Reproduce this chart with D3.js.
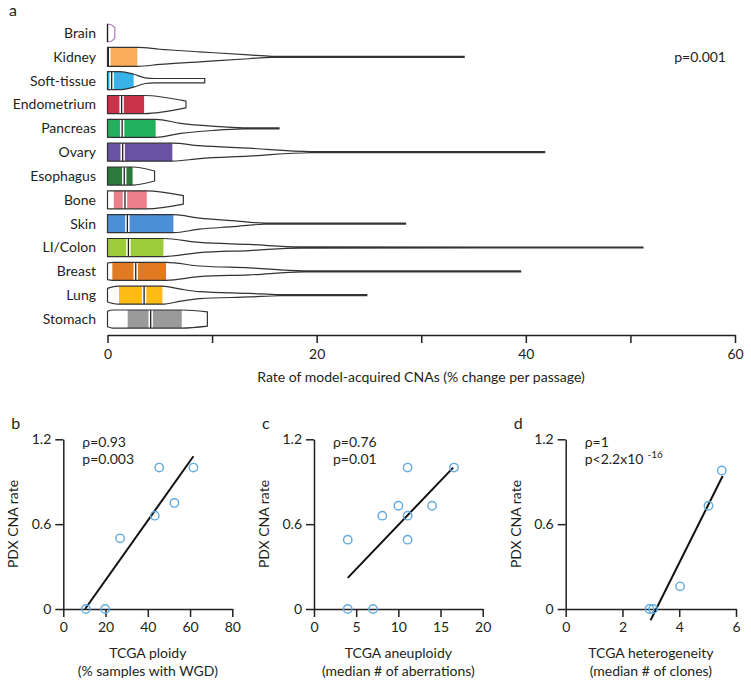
<!DOCTYPE html>
<html><head><meta charset="utf-8">
<script src="https://cdn.jsdelivr.net/npm/d3@7"></script>
<style>
body{margin:0;background:#fff}
svg text{font-family:Lato,"Open Sans",sans-serif;fill:#231f20}
</style>
</head><body><svg id="chart" width="751" height="690"></svg>
<script>
// ---------- Panel a data ----------
const categories = ["Brain","Kidney","Soft-tissue","Endometrium","Pancreas","Ovary","Esophagus","Bone","Skin","LI/Colon","Breast","Lung","Stomach"];
const colors = ["#b07cc6","#f9ad5a","#36b3e8","#c8334a","#22b05c","#6a52a3","#2c7a3c","#ec7d8a","#4a8fd8","#9ccc3a","#e27a22","#fdbb13","#9a9a9a"];
const q1 = [0, 0, 0, 0, 0, 0, 0, 0.6, 0, 0, 0.46, 1.1, 1.93];
const medians = [0.05, 0.08, 0.4, 1.35, 1.4, 1.45, 1.6, 1.67, 1.9, 2.0, 2.7, 3.5, 4.13];
const q3 = [0, 2.85, 2.5, 3.5, 4.6, 6.2, 2.4, 3.75, 6.3, 5.35, 5.6, 5.25, 7.1];
// violin outlines: [rate, relative density]
const profiles = [
  [[0,0.95],[0.4,0.85],[0.7,0.55]],
  [[0,1],[2.9,1],[5,0.8],[8.8,0.53],[13.5,0.2],[15.7,0.06],[34.1,0.05]],
  [[0,0.95],[1.2,0.95],[2.5,0.68],[3.6,0.3],[4.5,0.23],[9.3,0.23]],
  [[0,0.95],[3.5,0.95],[7.5,0.35]],
  [[0,0.95],[4.6,0.95],[7,0.53],[10,0.23],[13,0.06],[16.4,0.05]],
  [[0,0.95],[6.2,0.95],[8.8,0.68],[13.5,0.42],[19.4,0.06],[41.8,0.05]],
  [[0,0.95],[2.4,0.95],[4.5,0.53]],
  [[0,0.95],[3.75,0.95],[7.25,0.45]],
  [[0,0.95],[6.3,0.95],[8.8,0.58],[12,0.32],[15,0.06],[28.5,0.05]],
  [[0,0.95],[5.35,0.95],[8.8,0.53],[13.6,0.32],[18.4,0.06],[51.2,0.05]],
  [[0,0.88],[0.5,0.95],[5.6,0.95],[8.8,0.56],[13.6,0.37],[18.7,0.06],[39.5,0.05]],
  [[0,0.72],[1,0.95],[5.25,0.95],[7,0.63],[8.8,0.37],[13.6,0.19],[16.5,0.06],[24.8,0.05]],
  [[0,0.82],[0.5,0.95],[7.1,0.95],[9.55,0.74]]
];
const rateTicks = [0,10,20,30,40,50,60];
const rateTickLabels = ["0","","20","","40","","60"];
const pValueA = "p=0.001";

// ---------- Panels b-d data ----------
const ploidyX = [10.7, 19.8, 26.9, 43.3, 45.4, 52.6, 61.6];
const ploidyY = [0, 0, 0.5, 0.66, 1.0, 0.75, 1.0];
const ploidyFitX = [10.3, 61.6];
const ploidyFitY = [0, 1.08];
const aneuX = [4, 7, 4, 8.1, 10, 11.1, 11.1, 11.1, 14, 16.6];
const aneuY = [0, 0, 0.49, 0.66, 0.73, 0.66, 0.49, 1.0, 0.73, 1.0];
const aneuFitX = [4, 16.5];
const aneuFitY = [0.22, 1.0];
const hetX = [2.95, 3.08, 4.03, 5.03, 5.5];
const hetY = [0, 0, 0.16, 0.73, 0.98];
const hetFitX = [2.99, 5.53];
const hetFitY = [-0.08, 0.94];
const rateTicksY = [0, 0.6, 1.2];

const svg = d3.select("#chart");

// ---------- Panel a ----------
const x = d3.scaleLinear().domain([0,60]).range([107.5,735]);
const y = d3.scalePoint().domain(categories).range([33,319]);
const w = d3.scaleLinear().domain([0,1]).range([0,9.5]);

svg.append("text").attr("x",9).attr("y",16).style("font-size","16px").text("a");

const gA = svg.append("g");
categories.forEach((cat,i)=>{
  const cy = y(cat);
  const area = d3.area()
    .x(d=>x(d[0]))
    .y0(d=>cy - w(d[1]))
    .y1(d=>cy + w(d[1]))
    .curve(d3.curveMonotoneX);
  const pathD = area(profiles[i]);
  const clipId = "clip"+i;
  gA.append("clipPath").attr("id",clipId).append("path").attr("d",pathD);
  const g = gA.append("g");
  if (q3[i] > q1[i]) {
    g.append("rect").attr("clip-path",`url(#${clipId})`)
      .attr("x",x(q1[i])).attr("width",x(q3[i])-x(q1[i]))
      .attr("y",cy-12).attr("height",24).attr("fill",colors[i]);
    g.append("rect").attr("clip-path",`url(#${clipId})`)
      .attr("x",x(medians[i])-2.2).attr("width",4.4)
      .attr("y",cy-12).attr("height",24).attr("fill","#fff");
    g.append("line").attr("clip-path",`url(#${clipId})`)
      .attr("x1",x(medians[i])).attr("x2",x(medians[i]))
      .attr("y1",cy-12).attr("y2",cy+12).attr("stroke","#231f20").attr("stroke-width",1.3);
  }
  g.append("path").attr("d",pathD).attr("fill","none")
    .attr("stroke", q3[i] > q1[i] ? "#333" : colors[i]).attr("stroke-width",1.2);
  if (q3[i] <= q1[i]) {
    g.append("line").attr("x1",x(medians[i])-0.5).attr("x2",x(medians[i])-0.5)
      .attr("y1",cy-w(profiles[i][0][1])).attr("y2",cy+w(profiles[i][0][1]))
      .attr("stroke","#231f20").attr("stroke-width",1.3);
  }
  svg.append("text").attr("x",96).attr("y",cy).attr("dy","0.35em")
    .attr("text-anchor","end").style("font-size","14px").text(cat);
});

svg.append("text").attr("x",726).attr("y",62).attr("text-anchor","end")
  .style("font-size","14px").text(pValueA);

const axA = svg.append("g").attr("transform","translate(0,335)")
  .call(d3.axisBottom(x).tickValues(rateTicks).tickFormat((d,i)=>rateTickLabels[i]).tickSize(8).tickSizeOuter(0).tickPadding(6));
axA.select(".domain").attr("stroke","#231f20").attr("stroke-width",1.5);
axA.selectAll(".tick line").attr("stroke","#231f20").attr("stroke-width",1.5);
axA.selectAll(".tick text").style("font-size","14px").style("font-family","Lato,sans-serif").attr("fill","#231f20");
svg.append("text").attr("x",421).attr("y",382).attr("text-anchor","middle")
  .style("font-size","14px").text("Rate of model-acquired CNAs (% change per passage)");

// ---------- Scatter panels ----------
function scatter(opts){
  const sx = d3.scaleLinear().domain(opts.xDomain).range(opts.xRange);
  const sy = d3.scaleLinear().domain([0,1.2]).range([609,439.3]);
  const g = svg.append("g");
  g.append("text").attr("x",opts.xRange[0]-52).attr("y",429).style("font-size","16px").text(opts.letter);
  const ax = g.append("g").attr("transform","translate(0,609)")
    .call(d3.axisBottom(sx).tickValues(opts.xTicks).tickFormat(d3.format("d")).tickSize(8).tickSizeOuter(0).tickPadding(5));
  const ay = g.append("g").attr("transform",`translate(${opts.xRange[0]},0)`)
    .call(d3.axisLeft(sy).tickValues(rateTicksY).tickFormat(d=>d===0?"0":d3.format(".1f")(d)).tickSize(8).tickSizeOuter(0).tickPadding(4));
  [ax,ay].forEach(a=>{
    a.select(".domain").attr("stroke","#231f20").attr("stroke-width",1.5);
    a.selectAll(".tick line").attr("stroke","#231f20").attr("stroke-width",1.5);
    a.selectAll(".tick text").style("font-size","14px").style("font-family","Lato,sans-serif").attr("fill","#231f20");
  });
  const cx = (opts.xRange[0]+opts.xRange[1])/2;
  g.append("text").attr("transform",`translate(${opts.xRange[0]-50},524) rotate(-90)`)
    .attr("text-anchor","middle").attr("dy","0.35em").style("font-size","14px").text("PDX CNA rate");
  g.append("text").attr("x",cx).attr("y",658).attr("text-anchor","middle").style("font-size","14px").text(opts.title1);
  g.append("text").attr("x",cx).attr("y",676).attr("text-anchor","middle").style("font-size","14px").text(opts.title2);
  g.append("text").attr("x",opts.xRange[0]+19).attr("y",447).style("font-size","14px").text(opts.rho);
  const pt = g.append("text").attr("x",opts.xRange[0]+19).attr("y",464).style("font-size","14px").text(opts.p);
  if (opts.sup) pt.append("tspan").attr("dx",4).attr("dy",-6).style("font-size","10px").text(opts.sup);
  g.append("line").attr("x1",sx(opts.fitX[0])).attr("y1",sy(opts.fitY[0]))
    .attr("x2",sx(opts.fitX[1])).attr("y2",sy(opts.fitY[1]))
    .attr("stroke","#111").attr("stroke-width",2);
  g.selectAll("circle.pt").data(opts.xs).join("circle")
    .attr("cx",d=>sx(d)).attr("cy",(d,i)=>sy(opts.ys[i])).attr("r",4.2)
    .attr("fill","none").attr("stroke","#62abde").attr("stroke-width",1.4);
}

scatter({letter:"b", xDomain:[0,80], xRange:[63.3,232.3], xTicks:[0,20,40,60,80],
  xs:ploidyX, ys:ploidyY, fitX:ploidyFitX, fitY:ploidyFitY,
  title1:"TCGA ploidy", title2:"(% samples with WGD)", rho:"ρ=0.93", p:"p=0.003"});
scatter({letter:"c", xDomain:[0,20], xRange:[314,482.7], xTicks:[0,5,10,15,20],
  xs:aneuX, ys:aneuY, fitX:aneuFitX, fitY:aneuFitY,
  title1:"TCGA aneuploidy", title2:"(median # of aberrations)", rho:"ρ=0.76", p:"p=0.01"});
scatter({letter:"d", xDomain:[0,6], xRange:[565.7,736], xTicks:[0,2,4,6],
  xs:hetX, ys:hetY, fitX:hetFitX, fitY:hetFitY,
  title1:"TCGA heterogeneity", title2:"(median # of clones)", rho:"ρ=1", p:"p<2.2x10", sup:"-16"});
</script>
</body></html>
